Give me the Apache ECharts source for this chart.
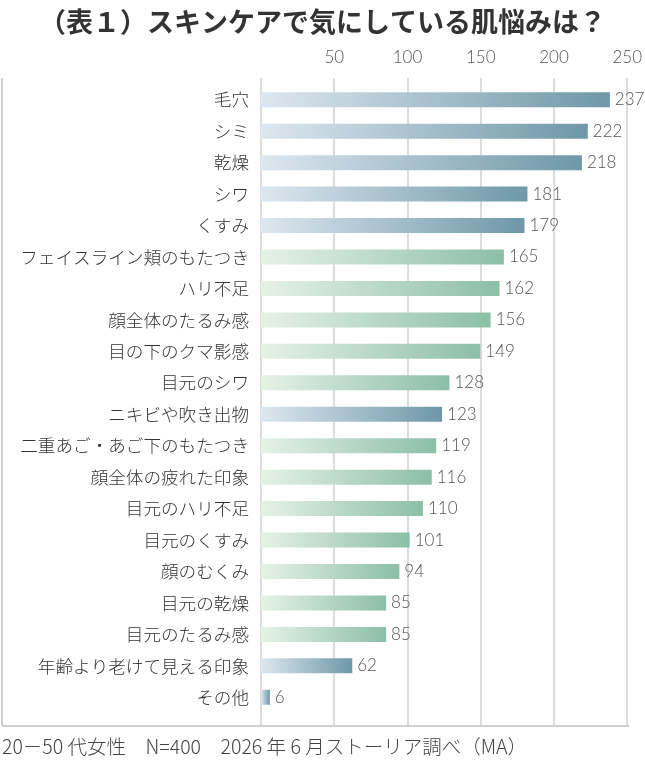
<!DOCTYPE html>
<html>
<head>
<meta charset="utf-8">
<script src="https://cdn.jsdelivr.net/npm/echarts@6/dist/echarts.min.js"></script>
<style>html,body{margin:0;padding:0;background:#fff}#c{width:645px;height:760px}</style>
</head>
<body>
<div id="c"></div>
<script>
const titleText = '（表１）スキンケアで気にしている肌悩みは？';
const footerText = '20－50 代女性　N=400　2026 年 6 月ストーリア調べ（MA）';
const categories = ['毛穴','シミ','乾燥','シワ','くすみ','フェイスライン頬のもたつき','ハリ不足','顔全体のたるみ感','目の下のクマ影感','目元のシワ','ニキビや吹き出物','二重あご・あご下のもたつき','顔全体の疲れた印象','目元のハリ不足','目元のくすみ','顔のむくみ','目元の乾燥','目元のたるみ感','年齢より老けて見える印象','その他'];
const values = [237,222,218,181,179,165,162,156,149,128,123,119,116,110,101,94,85,85,62,6];
const colorGroup = ['blue','blue','blue','blue','blue','green','green','green','green','green','blue','green','green','green','green','green','green','green','blue','blue'];
const xTicks = [0,50,100,150,200,250];

const JP = '"Noto Sans CJK JP", "Noto Sans", sans-serif';
const NUM = 'Lato, "Noto Sans", sans-serif';
const grads = {
  blue: new echarts.graphic.LinearGradient(0,0,1,0,[{offset:0,color:'#dde7f0'},{offset:1,color:'#6e97a8'}]),
  green: new echarts.graphic.LinearGradient(0,0,1,0,[{offset:0,color:'#e6f2e7'},{offset:1,color:'#8cbea8'}])
};
const chart = echarts.init(document.getElementById('c'));
chart.setOption({
  animation:false,
  backgroundColor:'#fff',
  title:{text:titleText,left:'center',top:3,textStyle:{fontFamily:JP,fontSize:27,fontWeight:'bold',color:'#333'}},
  graphic:[
    {type:'line',shape:{x1:2,y1:78,x2:2,y2:726},style:{stroke:'#cfcfcf',lineWidth:2}},
    {type:'line',shape:{x1:2,y1:726,x2:629,y2:726},style:{stroke:'#cfcfcf',lineWidth:2}},
    {type:'text',left:2,top:737,style:{text:footerText,fontFamily:JP,fontSize:19.5,fontWeight:300,fill:'#444'}}
  ],
  grid:[
    {left:261,right:16,top:78,bottom:34},
    {left:261,right:16,top:84,bottom:47}
  ],
  xAxis:[
    {gridIndex:0,type:'value',position:'top',min:xTicks[0],max:xTicks[xTicks.length-1],interval:50,
     axisLine:{show:false},axisTick:{show:false},
     axisLabel:{margin:12,fontFamily:NUM,fontSize:17,fontWeight:300,color:'#555',formatter:v=>v===0?'':String(v)},
     splitLine:{show:true,lineStyle:{color:'#d0d0d0',width:1.5}}},
    {gridIndex:1,type:'value',min:xTicks[0],max:xTicks[xTicks.length-1],show:false}
  ],
  yAxis:[
    {gridIndex:0,type:'category',data:categories,show:false},
    {gridIndex:1,type:'category',data:categories,inverse:true,
     axisLine:{show:false},axisTick:{show:false},
     axisLabel:{margin:12,fontFamily:JP,fontSize:17.6,fontWeight:300,color:'#333'}}
  ],
  series:[{
    type:'bar',xAxisIndex:1,yAxisIndex:1,barWidth:15,
    data:values.map((v,i)=>({value:v,itemStyle:{color:grads[colorGroup[i]]}})),
    label:{show:true,position:'right',distance:5,fontFamily:NUM,fontSize:17,fontWeight:300,color:'#555'}
  }]
});
</script>
</body>
</html>
